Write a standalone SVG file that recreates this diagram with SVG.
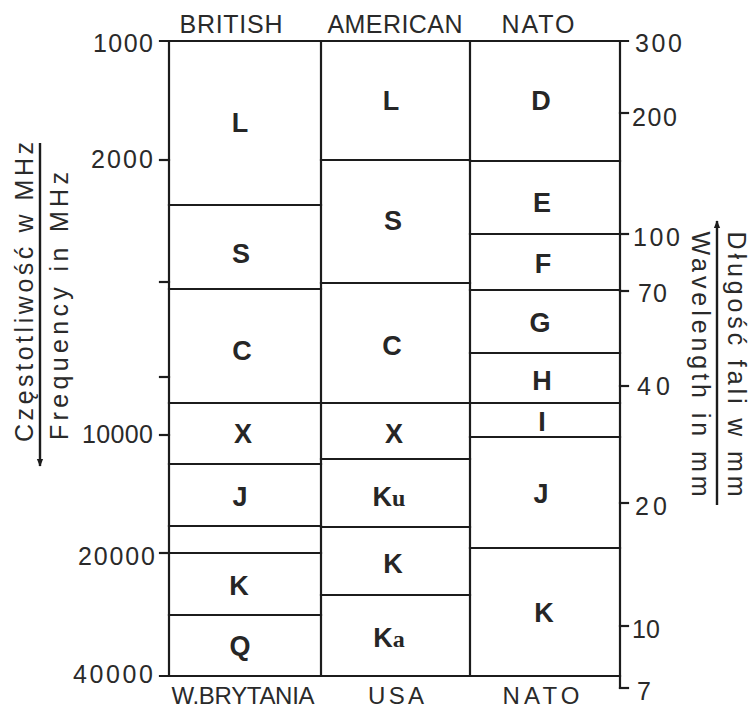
<svg xmlns="http://www.w3.org/2000/svg" width="755" height="711" viewBox="0 0 755 711">
<defs>
<style>
.ln{stroke:#1c1c1c;stroke-width:2.2;fill:none;stroke-linecap:square}
.ax{stroke:#1c1c1c;stroke-width:2.4;fill:none}
.t{font-family:"Liberation Sans",Arial,sans-serif;font-size:25px;fill:#2a2a2a}
.m{text-anchor:middle}
.e{text-anchor:end}
.bt{font-size:24px}
.b{font-family:"Liberation Sans",Arial,sans-serif;font-size:27px;font-weight:bold;fill:#262626;text-anchor:middle}
.s{font-family:"Liberation Serif","Times New Roman",serif;font-weight:bold}
</style>
<marker id="ah" viewBox="0 0 10 10" refX="9" refY="5" markerWidth="8" markerHeight="8" markerUnits="userSpaceOnUse" orient="auto">
<path d="M0,1 L10,5 L0,9 Z" fill="#1c1c1c"/>
</marker>
</defs>
<rect width="755" height="711" fill="#ffffff"/>

<g id="grid">
<line class="ln" x1="160" y1="41" x2="628" y2="41"/>
<line class="ln" x1="160" y1="676" x2="620" y2="676"/>
<line class="ln" x1="169" y1="41" x2="169" y2="676"/>
<line class="ln" x1="321" y1="41" x2="321" y2="676"/>
<line class="ln" x1="470" y1="41" x2="470" y2="676"/>
<line class="ln" x1="620" y1="41" x2="620" y2="688"/>
<line class="ln" x1="169" y1="205" x2="321" y2="205"/>
<line class="ln" x1="169" y1="289" x2="321" y2="289"/>
<line class="ln" x1="169" y1="403" x2="620" y2="403"/>
<line class="ln" x1="169" y1="464" x2="321" y2="464"/>
<line class="ln" x1="169" y1="526" x2="321" y2="526"/>
<line class="ln" x1="169" y1="553" x2="321" y2="553"/>
<line class="ln" x1="169" y1="615" x2="321" y2="615"/>
<line class="ln" x1="321" y1="160" x2="470" y2="160"/>
<line class="ln" x1="321" y1="283" x2="470" y2="283"/>
<line class="ln" x1="321" y1="459" x2="470" y2="459"/>
<line class="ln" x1="321" y1="527" x2="470" y2="527"/>
<line class="ln" x1="321" y1="595" x2="470" y2="595"/>
<line class="ln" x1="470" y1="161" x2="620" y2="161"/>
<line class="ln" x1="470" y1="234" x2="620" y2="234"/>
<line class="ln" x1="470" y1="290" x2="620" y2="290"/>
<line class="ln" x1="470" y1="353" x2="620" y2="353"/>
<line class="ln" x1="470" y1="437" x2="620" y2="437"/>
<line class="ln" x1="470" y1="548" x2="620" y2="548"/>
<line class="ln" x1="160" y1="160" x2="169" y2="160"/>
<line class="ln" x1="160" y1="282" x2="169" y2="282"/>
<line class="ln" x1="160" y1="377" x2="169" y2="377"/>
<line class="ln" x1="160" y1="435" x2="169" y2="435"/>
<line class="ln" x1="160" y1="553" x2="169" y2="553"/>
<line class="ln" x1="620" y1="113" x2="628" y2="113"/>
<line class="ln" x1="620" y1="234" x2="628" y2="234"/>
<line class="ln" x1="620" y1="291" x2="628" y2="291"/>
<line class="ln" x1="620" y1="386" x2="628" y2="386"/>
<line class="ln" x1="620" y1="503" x2="628" y2="503"/>
<line class="ln" x1="620" y1="626" x2="628" y2="626"/>
<line class="ln" x1="620" y1="688" x2="628" y2="688"/>
</g>

<g id="headers" class="t">
<text class="m" x="231" y="33" textLength="103" lengthAdjust="spacing">BRITISH</text>
<text class="m" x="395" y="33" textLength="135" lengthAdjust="spacing">AMERICAN</text>
<text class="m" x="538" y="33" textLength="73" lengthAdjust="spacing">NATO</text>
<text class="m bt" x="243" y="704" textLength="143" lengthAdjust="spacing">W.BRYTANIA</text>
<text class="m bt" x="396" y="704" textLength="56" lengthAdjust="spacing">USA</text>
<text class="m bt" x="541" y="704" textLength="77" lengthAdjust="spacing">NATO</text>
</g>

<g id="freq-scale" class="t">
<text class="e" x="153" y="52" textLength="60" lengthAdjust="spacing">1000</text>
<text class="e" x="153" y="168" textLength="62" lengthAdjust="spacing">2000</text>
<text class="e" x="153" y="443" textLength="71" lengthAdjust="spacing">10000</text>
<text class="e" x="155" y="565" textLength="77" lengthAdjust="spacing">20000</text>
<text class="e" x="153" y="683" textLength="80" lengthAdjust="spacing">40000</text>
</g>

<g id="wave-scale" class="t">
<text x="635" y="52" textLength="47" lengthAdjust="spacing">300</text>
<text x="632" y="126" textLength="45" lengthAdjust="spacing">200</text>
<text x="633" y="246" textLength="47" lengthAdjust="spacing">100</text>
<text x="638" y="302" textLength="29" lengthAdjust="spacing">70</text>
<text x="637" y="395" textLength="33" lengthAdjust="spacing">40</text>
<text x="635" y="515" textLength="32" lengthAdjust="spacing">20</text>
<text x="632" y="638" textLength="28" lengthAdjust="spacing">10</text>
<text x="637" y="700">7</text>
</g>

<g id="british">
<g id="br-L"><text class="b" x="240" y="132">L</text></g>
<g id="br-S"><text class="b" x="241" y="263">S</text></g>
<g id="br-C"><text class="b" x="242" y="360">C</text></g>
<g id="br-X"><text class="b" x="243" y="443">X</text></g>
<g id="br-J"><text class="b" x="240" y="506">J</text></g>
<g id="br-K"><text class="b" x="239" y="595">K</text></g>
<g id="br-Q"><text class="b" x="240" y="655">Q</text></g>
</g>

<g id="american">
<g id="us-L"><text class="b" x="391" y="110">L</text></g>
<g id="us-S"><text class="b" x="393" y="230">S</text></g>
<g id="us-C"><text class="b" x="392" y="355">C</text></g>
<g id="us-X"><text class="b" x="394" y="443">X</text></g>
<g id="us-Ku"><text class="b" x="389" y="506">K<tspan class="s" font-size="24">u</tspan></text></g>
<g id="us-K"><text class="b" x="393" y="573">K</text></g>
<g id="us-Ka"><text class="b" x="389" y="647">K<tspan class="s" font-size="24">a</tspan></text></g>
</g>

<g id="nato">
<g id="nato-D"><text class="b" x="541" y="110">D</text></g>
<g id="nato-E"><text class="b" x="542" y="212">E</text></g>
<g id="nato-F"><text class="b" x="543" y="273">F</text></g>
<g id="nato-G"><text class="b" x="540" y="332">G</text></g>
<g id="nato-H"><text class="b" x="542" y="390">H</text></g>
<g id="nato-I"><text class="b" x="542" y="431">I</text></g>
<g id="nato-J"><text class="b" x="541" y="503">J</text></g>
<g id="nato-K"><text class="b" x="544" y="622">K</text></g>
</g>

<g id="connectors">
<line class="ax" x1="40" y1="143" x2="40" y2="466" marker-end="url(#ah)"/>
<line class="ax" x1="717" y1="505" x2="717" y2="221" marker-end="url(#ah)"/>
</g>

<g id="axis-titles" class="t">
<text class="m" transform="translate(33,292) rotate(-90)" textLength="300" lengthAdjust="spacing">Częstotliwość w MHz</text>
<text class="m" transform="translate(68,306) rotate(-90)" textLength="268" lengthAdjust="spacing">Frequency in MHz</text>
<text class="m" transform="translate(692,364) rotate(90)" textLength="265" lengthAdjust="spacing">Wavelength in mm</text>
<text class="m" transform="translate(728,364) rotate(90)" textLength="265" lengthAdjust="spacing">Długość fali w mm</text>
</g>
</svg>
